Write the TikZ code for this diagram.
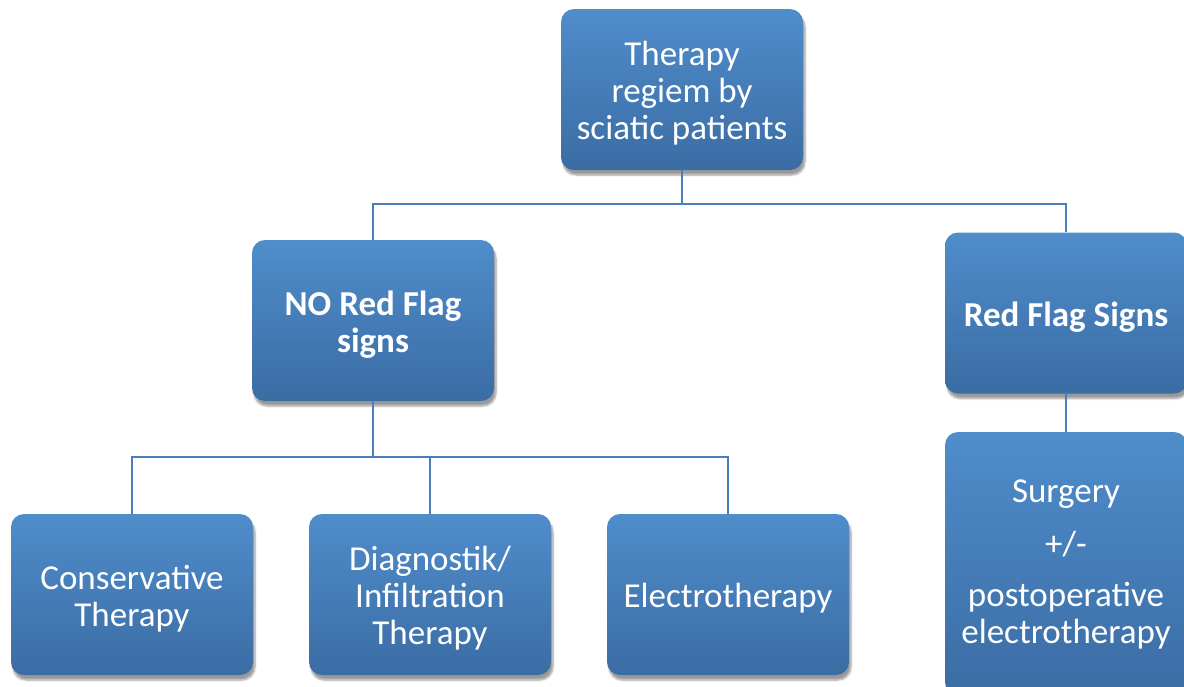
\documentclass[tikz,border=0pt]{standalone}
\usepackage{fontspec}
\setmainfont{Carlito}
\usetikzlibrary{shadows.blur}
\definecolor{boxtop}{HTML}{4F8DCB}
\definecolor{boxbot}{HTML}{3B6CA4}
\definecolor{linec}{HTML}{4A7EBB}
\tikzset{
 box/.style={rectangle, rounded corners=13pt, top color=boxtop, bottom color=boxbot, draw=none,
   minimum width=242pt, minimum height=161pt, inner sep=0pt,
   blur shadow={shadow xshift=2pt, shadow yshift=-5pt, shadow blur steps=6, shadow opacity=40}},
 lbl/.style={align=center, text=white, font=\fontsize{35}{37}\selectfont, inner sep=0pt, yshift=-4pt},
 blbl/.style={lbl, font=\fontsize{35}{37}\selectfont\bfseries},
 conn/.style={draw=linec, line width=1.6pt}
}
\begin{document}
\begin{tikzpicture}[x=1pt,y=-1pt]
\useasboundingbox (0,0) rectangle (1184,686);
\clip (0,0) rectangle (1184,686);
\node[box, label={[lbl]center:{Therapy\\regiem by\\sciatic patients}}] (top) at (682,89.5) {};
\node[box, label={[blbl]center:{NO Red Flag\\signs}}] (nored) at (373,320.5) {};
\node[box, label={[blbl]center:{Red Flag Signs}}] (red) at (1066,313) {};
\node[box, label={[lbl]center:{Conservative\\Therapy}}] (cons) at (132,594.5) {};
\node[box, label={[lbl]center:{Diagnostik/\\Infiltration\\Therapy}}] (diag) at (430,594.5) {};
\node[box, label={[lbl]center:{Electrotherapy}}] (elec) at (728,594.5) {};
\node[box, minimum height=263pt, label={[lbl, yshift=3pt]center:{Surgery\\[16pt]+/-\\[14pt]postoperative\\electrotherapy}}] (surg) at (1066,563.5) {};
\draw[conn] (top.south) -- (top.south |- 0,204) -| (nored.north);
\draw[conn] (top.south |- 0,204) -| (red.north);
\draw[conn] (nored.south) -- (nored.south |- 0,457) -| (cons.north);
\draw[conn] (nored.south |- 0,457) -| (diag.north);
\draw[conn] (nored.south |- 0,457) -| (elec.north);
\draw[conn] (red.south) -- (surg.north);
\end{tikzpicture}
\end{document}
